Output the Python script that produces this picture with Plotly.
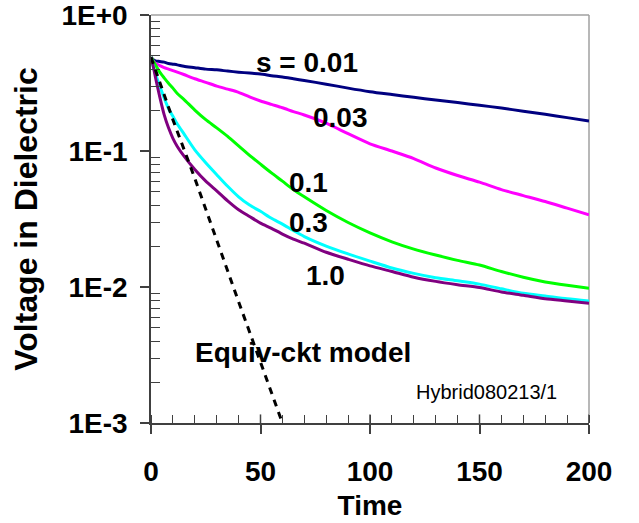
import plotly.graph_objects as go

# Time samples shared by the simulated curves
time = [0, 1, 2, 4, 6, 8, 10, 12, 15, 20, 25, 30, 35, 40, 45, 50, 55, 60, 65, 70,
        80, 90, 100, 110, 120, 130, 140, 150, 160, 170, 180, 190, 200]

v_s001 = [0.49, 0.47, 0.46, 0.455, 0.45, 0.44, 0.435, 0.43, 0.42, 0.41, 0.40, 0.395,
          0.387, 0.38, 0.374, 0.368, 0.358, 0.35, 0.34, 0.33, 0.31, 0.29, 0.273, 0.26,
          0.248, 0.237, 0.227, 0.217, 0.207, 0.196, 0.186, 0.176, 0.166]
v_s003 = [0.49, 0.46, 0.44, 0.425, 0.41, 0.40, 0.39, 0.38, 0.365, 0.34, 0.32, 0.30,
          0.285, 0.27, 0.25, 0.233, 0.22, 0.208, 0.195, 0.184, 0.16, 0.134, 0.113, 0.10,
          0.088, 0.075, 0.066, 0.059, 0.052, 0.047, 0.0425, 0.038, 0.034]
v_s01 = [0.49, 0.46, 0.43, 0.38, 0.345, 0.315, 0.29, 0.265, 0.24, 0.20, 0.17, 0.148,
         0.128, 0.109, 0.093, 0.080, 0.069, 0.060, 0.052, 0.046, 0.0365, 0.0298, 0.025,
         0.0215, 0.019, 0.0172, 0.0157, 0.0145, 0.013, 0.0118, 0.0109, 0.0103, 0.0098]
v_s03 = [0.49, 0.42, 0.37, 0.30, 0.245, 0.205, 0.18, 0.158, 0.134, 0.102, 0.082, 0.067,
         0.055, 0.046, 0.040, 0.036, 0.032, 0.029, 0.026, 0.0235, 0.020, 0.0175, 0.0155,
         0.0138, 0.0126, 0.0117, 0.0111, 0.0105, 0.0097, 0.0090, 0.0086, 0.0082, 0.0079]
v_s10 = [0.49, 0.42, 0.35, 0.25, 0.185, 0.148, 0.124, 0.108, 0.092, 0.073, 0.06, 0.051,
         0.043, 0.037, 0.033, 0.0295, 0.027, 0.0245, 0.0225, 0.021, 0.018, 0.016, 0.0143,
         0.013, 0.0118, 0.011, 0.0104, 0.0099, 0.0092, 0.0087, 0.0082, 0.0079, 0.0076]

# Equivalent-circuit model
time_ckt = [0, 10, 20, 30, 40, 50, 60]
v_ckt = [0.49, 0.17, 0.063, 0.022, 0.0078, 0.0028, 0.001]

x_ticks = [0, 50, 100, 150, 200]
y_ticks = [1e-3, 1e-2, 1e-1, 1e0]
y_tick_labels = ["1E-3", "1E-2", "1E-1", "1E+0"]
y_minor = [k * d for d in (1e-3, 1e-2, 1e-1) for k in range(2, 10)]

FONT = "Liberation Sans, Arial, Helvetica, sans-serif"
AXIS_COLOR = "#404040"

series = [
    (v_s001, "#000080", "s = 0.01"),
    (v_s003, "#FF00FF", "s = 0.03"),
    (v_s01, "#00FF00", "s = 0.1"),
    (v_s03, "#00FFFF", "s = 0.3"),
    (v_s10, "#800080", "s = 1.0"),
]

fig = go.Figure()
for vals, color, name in series:
    fig.add_trace(go.Scatter(x=time, y=vals, mode="lines", name=name,
                             line=dict(color=color, width=3, shape="spline",
                                       smoothing=0.7)))
fig.add_trace(go.Scatter(x=time_ckt, y=v_ckt, mode="lines", name="Equiv-ckt model",
                         line=dict(color="black", width=3, dash="7px,6px")))

# curve labels
labels = [
    ("s = 0.01", 71.2, -0.346, 28, True),
    ("0.03", 86.3, -0.75, 28, True),
    ("0.1", 71.7, -1.228, 28, True),
    ("0.3", 71.7, -1.529, 28, True),
    ("1.0", 79.5, -1.912, 28, True),
    ("Equiv-ckt model", 69.6, -2.478, 28, True),
    ("Hybrid080213/1", 153.4, -2.772, 20, False),
]
for text, lx, ly, size, bold in labels:
    fig.add_annotation(x=lx, y=ly, xref="x", yref="y", text=text, showarrow=False,
                       xanchor="center", yanchor="middle",
                       font=dict(family=FONT, size=size, color="black",
                                 weight="bold" if bold else "normal"))

# light frame on the top and right edges
fig.add_shape(type="line", xref="paper", yref="paper", x0=0, x1=1, y0=1, y1=1,
              line=dict(color="#A0A0A0", width=1.5), layer="below")
fig.add_shape(type="line", xref="paper", yref="paper", x0=1, x1=1, y0=0, y1=1,
              line=dict(color="#A0A0A0", width=1.5), layer="below")
# inner half of the major time ticks
for xv in x_ticks[1:]:
    fig.add_shape(type="line", xref="x", yref="paper", x0=xv, x1=xv, y0=0, y1=0.021,
                  line=dict(color=AXIS_COLOR, width=1.5))

fig.update_layout(
    width=639, height=523, autosize=False,
    margin=dict(l=151, r=50, t=15, b=100, autoexpand=False),
    paper_bgcolor="white", plot_bgcolor="white",
    showlegend=False,
    font=dict(family=FONT, color="black"),
)
fig.update_xaxes(
    range=[0, 200], tickmode="array", tickvals=x_ticks, automargin=False,
    ticks="outside", ticklen=9, tickwidth=1.5, tickcolor=AXIS_COLOR,
    showline=True, linecolor=AXIS_COLOR, linewidth=1.5,
    showgrid=False, zeroline=False,
    tickfont=dict(family=FONT, size=28, color="black", weight="bold"),
    ticklabelstandoff=14, ticklabeloverflow="allow",
    minor=dict(tickmode="linear", tick0=0, dtick=10, ticks="inside", ticklen=8,
               tickwidth=1.2, tickcolor=AXIS_COLOR, showgrid=False),
    title=dict(text="Time", font=dict(family=FONT, size=28, color="black", weight="bold"),
               standoff=9),
)
fig.update_yaxes(
    type="log", range=[-3, 0], tickmode="array", tickvals=y_ticks, ticktext=y_tick_labels,
    automargin=False,
    ticks="outside", ticklen=9, tickwidth=1.5, tickcolor=AXIS_COLOR,
    showline=True, linecolor=AXIS_COLOR, linewidth=1.5,
    showgrid=False, zeroline=False,
    tickfont=dict(family=FONT, size=28, color="black", weight="bold"),
    ticklabelstandoff=7, ticklabeloverflow="allow",
    minor=dict(tickmode="array", tickvals=y_minor, ticks="inside", ticklen=9,
               tickwidth=1.2, tickcolor=AXIS_COLOR, showgrid=False),
    title=dict(text="Voltage in Dielectric",
               font=dict(family=FONT, size=32, color="black", weight="bold"), standoff=14),
)

fig.write_html("out.html")
